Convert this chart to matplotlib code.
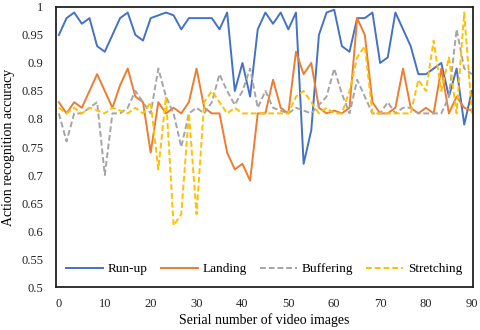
import numpy as np
import matplotlib
matplotlib.use("Agg")
import matplotlib.pyplot as plt

plt.rcParams['font.family'] = ['Liberation Serif', 'DejaVu Serif']

# Accuracy per sampled video image (55 samples over serial numbers 0..90)
run_up = [0.95, 0.98, 0.99, 0.97, 0.98, 0.93, 0.92, 0.95, 0.98, 0.99,
          0.95, 0.94, 0.98, 0.985, 0.99, 0.985, 0.96, 0.98, 0.98, 0.98,
          0.98, 0.96, 0.99, 0.85, 0.90, 0.84, 0.96, 0.99, 0.97, 0.99,
          0.96, 0.99, 0.72, 0.78, 0.95, 0.99, 0.995, 0.93, 0.92, 0.98,
          0.98, 0.99, 0.90, 0.91, 0.99, 0.96, 0.93, 0.88, 0.88, 0.89,
          0.90, 0.84, 0.89, 0.79, 0.85]
landing = [0.83, 0.81, 0.83, 0.82, 0.85, 0.88, 0.85, 0.82, 0.86, 0.89,
           0.84, 0.83, 0.74, 0.83, 0.81, 0.82, 0.81, 0.83, 0.89, 0.82,
           0.81, 0.81, 0.74, 0.71, 0.72, 0.69, 0.81, 0.81, 0.87, 0.82,
           0.81, 0.92, 0.88, 0.90, 0.82, 0.81, 0.815, 0.81, 0.82, 0.98,
           0.95, 0.83, 0.81, 0.81, 0.82, 0.89, 0.82, 0.81, 0.82, 0.81,
           0.89, 0.81, 0.84, 0.82, 0.815]
buffering = [0.81, 0.76, 0.81, 0.81, 0.82, 0.83, 0.70, 0.81, 0.81, 0.82,
             0.85, 0.83, 0.81, 0.89, 0.84, 0.81, 0.75, 0.81, 0.82, 0.81,
             0.83, 0.88, 0.85, 0.825, 0.85, 0.89, 0.82, 0.85, 0.82, 0.815,
             0.81, 0.82, 0.815, 0.81, 0.825, 0.84, 0.89, 0.845, 0.81, 0.87,
             0.84, 0.81, 0.81, 0.83, 0.81, 0.82, 0.82, 0.81, 0.81, 0.81,
             0.81, 0.84, 0.96, 0.89, 0.88]
stretching = [0.82, 0.81, 0.82, 0.81, 0.82, 0.815, 0.81, 0.82, 0.815, 0.81,
              0.82, 0.81, 0.83, 0.71, 0.84, 0.61, 0.63, 0.81, 0.63, 0.83,
              0.85, 0.83, 0.81, 0.82, 0.81, 0.81, 0.81, 0.81, 0.81, 0.81,
              0.81, 0.84, 0.85, 0.83, 0.81, 0.82, 0.81, 0.81, 0.85, 0.91,
              0.93, 0.81, 0.81, 0.81, 0.81, 0.81, 0.81, 0.87, 0.85, 0.94,
              0.85, 0.91, 0.81, 0.99, 0.81]

x = np.linspace(0, 90, len(run_up))

fig = plt.figure(figsize=(4.8, 3.3), dpi=100)
ax = fig.add_axes([0.116, 0.130, 0.869, 0.849])

ax.plot(x, run_up, color='#4472C4', lw=1.4, label='Run-up')
ax.plot(x, landing, color='#ED7D31', lw=1.4, label='Landing')
ax.plot(x, buffering, color='#A5A5A5', lw=1.4, ls=(0, (3, 1.5)), label='Buffering')
ax.plot(x, stretching, color='#FFC000', lw=1.4, ls=(0, (3, 1.5)), label='Stretching')

ax.set_xlim(-0.7, 90.2)
ax.set_ylim(0.5, 1.0)
ax.set_xticks(range(0, 91, 10))
ax.set_yticks(np.arange(0.5, 1.001, 0.05))
ax.set_yticklabels(['0.5', '0.55', '0.6', '0.65', '0.7', '0.75', '0.8',
                    '0.85', '0.9', '0.95', '1'])
ax.tick_params(length=0, labelsize=9, colors='#222222')
ax.tick_params(axis='x', pad=8)
ax.tick_params(axis='y', pad=9)
for s in ax.spines.values():
    s.set_linewidth(1.3)
    s.set_color('#222222')

ax.set_xlabel('Serial number of video images', fontsize=10, labelpad=2)
ax.set_ylabel('Action recognition accuracy', fontsize=10, labelpad=4)

ax.legend(loc='lower center', ncol=4, frameon=False, fontsize=9.5,
          handlelength=2.8, handletextpad=0.35, columnspacing=1.0,
          bbox_to_anchor=(0.5, 0.0))

fig.savefig('out.png', dpi=100)
